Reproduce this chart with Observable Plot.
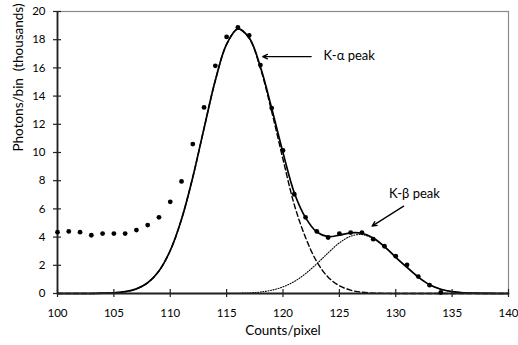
<!DOCTYPE html>
<html>
<head>
<meta charset="utf-8">
<script src="https://cdn.jsdelivr.net/npm/d3@7"></script>
<script src="https://cdn.jsdelivr.net/npm/@observablehq/plot@0.6"></script>
<style>
  body { margin: 0; background: #fff; }
  svg text { white-space: pre; }
</style>
</head>
<body>
<div id="chart"></div>
<script>
// Measured points (x = 100 .. 134)
const measuredX = [100,101,102,103,104,105,106,107,108,109,110,111,112,113,114,115,116,117,118,119,120,121,122,123,124,125,126,127,128,129,130,131,132,133,134];
const measuredY = [4.35,4.4,4.35,4.13,4.25,4.25,4.25,4.5,4.85,5.4,6.5,7.95,10.6,13.2,16.15,18.2,18.87,18.3,16.2,13.15,10.15,7.04,5.4,4.4,3.97,4.25,4.32,4.32,3.85,3.35,2.65,2.03,1.2,0.59,0.07];

// Fitted curves (x = 100 .. 140)
const curveX = [100,101,102,103,104,105,106,107,108,109,110,111,112,113,114,115,116,117,118,119,120,121,122,123,124,125,126,127,128,129,130,131,132,133,134,135,136,137,138,139,140];
const fitTotal = [0,0,0,0,0.02,0.05,0.13,0.33,0.76,1.6,3.05,5.27,8.25,11.73,15.12,17.68,18.77,18.13,16.07,13.13,9.99,7.15,5.38,4.36,4.04,4.14,4.3,4.27,3.94,3.33,2.57,1.85,1.16,0.62,0.3,0.13,0.05,0.02,0.01,0,0];
const kAlpha = [0,0,0,0,0.02,0.05,0.13,0.33,0.76,1.6,3.05,5.27,8.25,11.72,15.12,17.67,18.75,18.09,15.96,12.89,9.52,6.3,3.97,2.25,1.16,0.55,0.24,0.09,0.03,0.01,0,0,0,0,0,0,0,0,0,0,0];
const kBeta = [0,0,0,0,0,0,0,0,0,0,0,0,0,0,0.002,0.006,0.017,0.044,0.107,0.235,0.47,0.85,1.41,2.11,2.88,3.59,4.06,4.18,3.9,3.32,2.57,1.85,1.16,0.62,0.3,0.13,0.05,0.02,0.01,0,0];

// Axes
const xDomain = [100, 140];
const yDomain = [0, 20];
const xTicks = [100,105,110,115,120,125,130,135,140];
const yTicks = [0,2,4,6,8,10,12,14,16,18,20];
const xTitle = "Counts/pixel";
const yTitle = "Photons/bin  (thousands)";

// Annotations
const noteText = ["K-\u03b1 peak", "K-\u03b2 peak"];
const noteX = [123.6, 129.4];
const noteY = [16.85, 7.04];
const arrowX1 = [122.5, 130.7];
const arrowY1 = [16.8, 6.2];
const arrowX2 = [118.2, 127.9];
const arrowY2 = [16.8, 4.78];

const points = measuredX.map((x, i) => ({x, y: measuredY[i]}));
const curves = curveX.map((x, i) => ({x, total: fitTotal[i], alpha: kAlpha[i], beta: kBeta[i]}));
const notes = noteText.map((t, i) => ({t, x: noteX[i], y: noteY[i]}));
const arrows = arrowX1.map((x1, i) => ({x1, y1: arrowY1[i], x2: arrowX2[i], y2: arrowY2[i]}));

const chart = Plot.plot({
  width: 518,
  height: 345,
  marginLeft: 57,
  marginRight: 10,
  marginTop: 11,
  marginBottom: 52,
  style: {fontFamily: "Lato", fontSize: "11.5px", color: "#000", background: "#fff"},
  x: {domain: xDomain, label: null},
  y: {domain: yDomain, label: null},
  marks: [
    Plot.frame({stroke: "#8a8a8a", strokeWidth: 1.2}),
    Plot.line(curves, {x: "x", y: "beta", curve: "catmull-rom", stroke: "#000", strokeWidth: 1.1, strokeDasharray: "1,1.6"}),
    Plot.line(curves, {x: "x", y: "alpha", curve: "catmull-rom", stroke: "#000", strokeWidth: 1.4, strokeDasharray: "5,3"}),
    Plot.line(curves, {x: "x", y: "total", curve: "catmull-rom", stroke: "#000", strokeWidth: 1.7}),
    Plot.ruleX([xDomain[0]], {stroke: "#222", strokeWidth: 1.8}),
    Plot.ruleY([yDomain[0]], {stroke: "#222", strokeWidth: 1.8}),
    Plot.axisX({ticks: xTicks, tickSize: 8, dy: -4, tickPadding: 11, stroke: "#222", strokeWidth: 1.2, label: null}),
    Plot.axisY({ticks: yTicks, tickSize: 8, dx: 4, tickPadding: 8, stroke: "#222", strokeWidth: 1.2, label: null}),
    Plot.dot(points, {x: "x", y: "y", r: 2.4, fill: "#000", stroke: "none"}),
    Plot.arrow(arrows, {x1: "x1", y1: "y1", x2: "x2", y2: "y2", stroke: "#000", strokeWidth: 1.3, headLength: 6, headAngle: 50}),
    Plot.text(notes, {x: "x", y: "y", text: "t", textAnchor: "start", fontSize: 13, fill: "#000"}),
    Plot.text([xTitle], {frameAnchor: "bottom", dy: 41, fontSize: 13.5, fill: "#000"}),
    Plot.text([yTitle], {frameAnchor: "left", dx: -39, dy: -1, rotate: -90, fontSize: 13.5, fill: "#000"})
  ]
});
document.getElementById("chart").appendChild(chart);
</script>
</body>
</html>
